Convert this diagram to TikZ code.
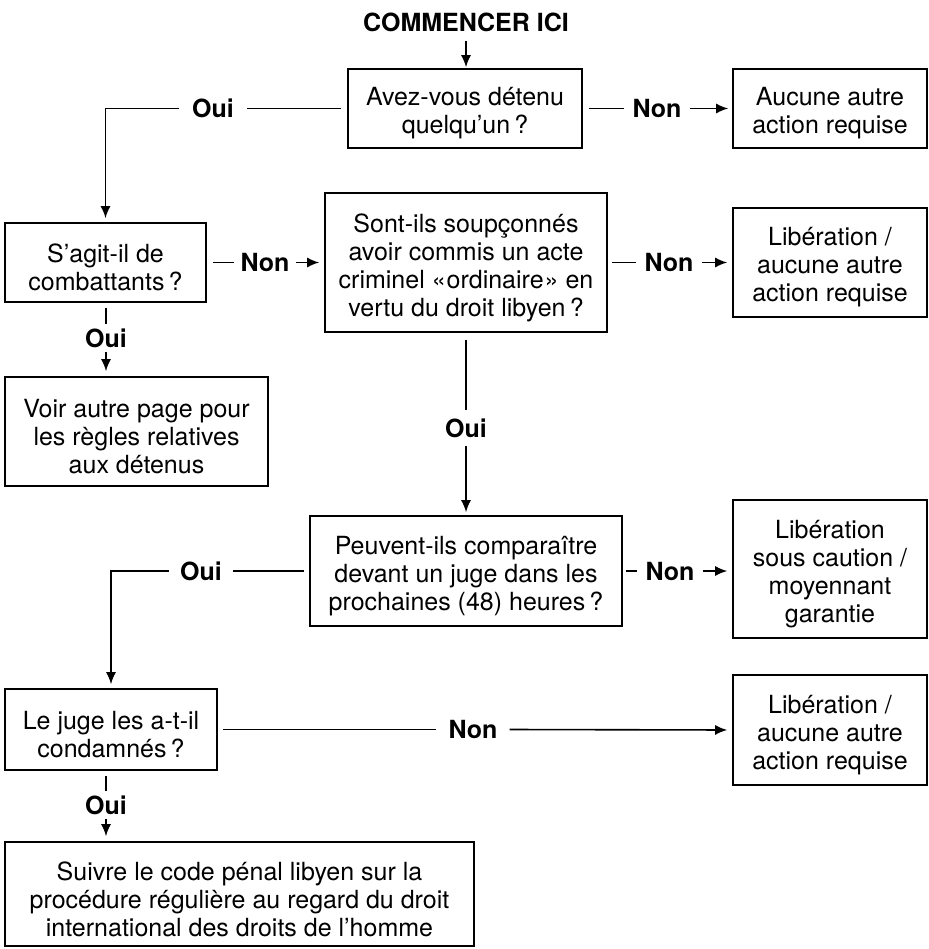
\documentclass[tikz,border=0pt]{standalone}
\usepackage{fontspec}
\setmainfont{TeX Gyre Heros}
\usetikzlibrary{arrows.meta}
\begin{document}
\begin{tikzpicture}[x=1pt,y=-1pt,
  box/.style={draw, line width=1.6pt, inner sep=0pt},
  txt/.style={align=center, inner sep=0pt, font=\fontsize{25}{28}\selectfont, yshift=-5pt},
  lbl/.style={font=\fontsize{25}{28}\selectfont\bfseries, inner xsep=8pt, inner ysep=5pt, text height=18pt, text depth=0pt},
  con/.style={line width=1.6pt},
  arr/.style={con, -{Latex[length=12pt,width=10pt]}}]
\useasboundingbox (0,0) rectangle (928,949);

% boxes
\node[box, minimum width=234pt, minimum height=79pt] (b1) at (465,108.5) {};
\node[txt] (b1t) at (b1.center) {Avez-vous détenu\\quelqu’un\,?};
\node[box, minimum width=194pt, minimum height=79pt] (aucune) at (830,108.5) {};
\node[txt] (aucunet) at (aucune.center) {Aucune autre\\action requise};
\node[box, minimum width=201pt, minimum height=79pt] (sagit) at (105.5,262.5) {};
\node[txt] (sagitt) at (sagit.center) {S’agit-il de\\combattants\,?};
\node[box, minimum width=282pt, minimum height=139pt] (sont) at (466,262.5) {};
\node[txt] (sontt) at (sont.center) {Sont-ils soupçonnés\\avoir commis un acte\\criminel\ «\kern1pt ordinaire\kern1pt» en\\vertu du droit libyen\,?};
\node[box, minimum width=194pt, minimum height=109pt] (lib1) at (830,262.5) {};
\node[txt] (lib1t) at (lib1.center) {Libération /\\aucune autre\\action requise};
\node[box, minimum width=263pt, minimum height=109pt] (voir) at (136.5,431.5) {};
\node[txt] (voirt) at (voir.center) {Voir autre page pour\\les règles relatives\\aux détenus};
\node[box, minimum width=312pt, minimum height=110pt] (peuv) at (466,571) {};
\node[txt] (peuvt) at (peuv.center) {Peuvent-ils comparaître\\devant un juge dans les\\prochaines (48) heures\,?};
\node[box, minimum width=194pt, minimum height=138pt] (libc) at (830,569) {};
\node[txt] (libct) at (libc.center) {Libération\\sous caution /\\moyennant\\garantie};
\node[box, minimum width=212pt, minimum height=81pt] (juge) at (111,729.5) {};
\node[txt] (juget) at (juge.center) {Le juge les a-t-il\\condamnés\,?};
\node[box, minimum width=194pt, minimum height=110pt] (lib3) at (830,730) {};
\node[txt] (lib3t) at (lib3.center) {Libération /\\aucune autre\\action requise};
\node[box, minimum width=469pt, minimum height=104pt] (final) at (239.5,894) {};
\node[txt] (finalt) at (final.center) {Suivre le code pénal libyen sur la\\procédure régulière au regard du droit\\international des droits de l’homme};

% start
\node[font=\fontsize{25}{28}\selectfont\bfseries, inner sep=0pt] (start) at (466,22) {COMMENCER ICI};
\draw[arr, shorten <=9pt, shorten >=1pt] (start.south) -- (start.south |- b1.north);

% labels
\node[lbl] (n1) at (657,108.5) {Non};
\node[lbl, inner xsep=13pt] (o1) at (213,108.5) {Oui};
\node[lbl, inner xsep=6pt] (n2) at (265,262.5) {Non};
\node[lbl] (o2) at (106,338) {Oui};
\node[lbl, inner ysep=9pt] (o3) at (466,428) {Oui};
\node[lbl] (n3) at (669,262.5) {Non};
\node[lbl] (n4) at (670,571) {Non};
\node[lbl, inner xsep=11pt] (o4) at (201,571) {Oui};
\node[lbl, inner xsep=12pt] (n5) at (473,729.5) {Non};
\node[lbl] (o5) at (106,805) {Oui};

% connectors
\draw[con, shorten <=6pt] (b1.east) -- (n1.west);
\draw[arr, shorten >=4pt] (n1.east) -- (aucune.west);

\draw[con, shorten <=6pt] (b1.west) -- (o1.east);
\draw[arr, shorten >=4pt] (o1.west) -| (sagit.north);

\draw[con, shorten <=6pt] (sagit.east) -- (n2.west);
\draw[arr, shorten >=5pt] (n2.east) -- (sont.west);

\draw[con, shorten <=5pt] (sagit.south -| o2) -- (o2.north);
\draw[arr, shorten >=5pt] (o2.south) -- (o2.south |- voir.north);

\draw[con, shorten <=7pt] (sont.south) -- (o3.north);
\draw[arr, shorten >=3pt] (o3.south) -- (peuv.north);

\draw[con, shorten <=4pt] (sont.east) -- (n3.west);
\draw[arr, shorten >=5pt] (n3.east) -- (lib1.west);

\draw[con, shorten <=3pt] (peuv.east) -- (n4.west);
\draw[arr, shorten >=5pt] (n4.east) -- (n4.east -| libc.west);

\draw[con, shorten <=5pt] (peuv.west) -- (o4.east);
\draw[arr, shorten >=4pt] (o4.west) -| (juge.north);

\draw[con, shorten <=5pt] (juge.east) -- (n5.west);
\draw[arr, shorten >=5pt] (n5.east) -- (lib3.west);

\draw[con, shorten <=5pt] (juge.south -| o5) -- (o5.north);
\draw[arr, shorten >=5pt] (o5.south) -- (o5.south |- final.north);
\end{tikzpicture}
\end{document}
